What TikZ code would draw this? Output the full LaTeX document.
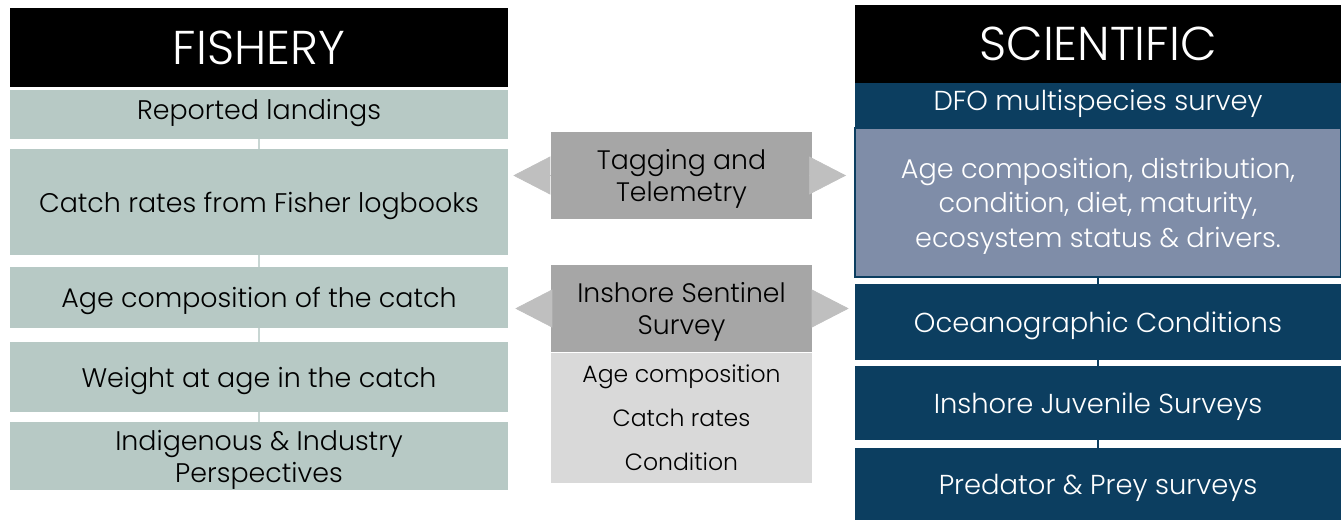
\documentclass[tikz,border=0pt]{standalone}
\usepackage{fontspec}
\setmainfont{Poppins}[UprightFont=* Light]
\definecolor{fishgreen}{RGB}{183, 201, 197}
\definecolor{fishline}{RGB}{200, 214, 211}
\definecolor{sciblue}{RGB}{12, 62, 96}
\definecolor{scilight}{RGB}{127, 141, 168}
\definecolor{taggray}{RGB}{166, 166, 166}
\definecolor{arrowgray}{RGB}{191, 191, 191}
\definecolor{sentgray}{RGB}{217, 217, 217}
\usetikzlibrary{arrows.meta, positioning}

\tikzset{
  headbox/.style={fill=black, text=white, minimum height=1.56cm, font=\fontsize{27}{30}\selectfont, inner sep=0pt},
  fishbox/.style={fill=fishgreen, minimum width=9.96cm, align=center, font=\fontsize{15.3}{18.2}\selectfont, inner sep=0pt, text depth=0pt},
  scibox/.style={fill=sciblue, text=white, minimum width=9.72cm, align=center, font=\fontsize{15.6}{18.2}\selectfont, inner sep=0pt, text depth=0pt},
  midbox/.style={fill=taggray, minimum width=5.22cm, minimum height=1.74cm, align=center, font=\fontsize{15.2}{18.2}\selectfont, inner sep=0pt, text depth=0pt},
  fatarrow/.style={arrowgray, line width=0.4pt, -{Triangle[length=0.74cm, width=0.76cm]}},
  fishlink/.style={fishline, line width=0.8pt},
  scilink/.style={sciblue, line width=0.8pt}
}

\begin{document}
\begin{tikzpicture}[x=0.02cm, y=-0.02cm]
  \useasboundingbox (0,0) rectangle (1341,520);

  % Fishery column
  \node[headbox, minimum width=9.96cm, minimum height=1.58cm] (fishhead) at (259,47.5) {FISHERY};
  \node[fishbox, minimum height=0.98cm, text depth=6pt] (landings) at (259,114.5) {Reported landings};
  \node[fishbox, minimum height=2.12cm] (catch) at (259,202) {Catch rates from Fisher logbooks};
  \node[fishbox, minimum height=1.22cm] (agecatch) at (259,297.5) {Age composition of the catch};
  \node[fishbox, minimum height=1.4cm] (weight) at (259,377) {Weight at age in the catch};
  \node[fishbox, minimum height=1.36cm] (indig) at (259,456) {Indigenous \& Industry\\Perspectives};
  \draw[fishlink] (landings.south) -- (catch.north);
  \draw[fishlink] (catch.south) -- (agecatch.north);
  \draw[fishlink] (agecatch.south) -- (weight.north);
  \draw[fishlink] (weight.south) -- (indig.north);

  % Scientific column
  \node[headbox, minimum width=9.72cm] (scihead) at (1098,44) {SCIENTIFIC};
  \node[scibox, minimum height=0.9cm, text depth=6pt] (dfo) at (1098,105.5) {DFO multispecies survey};
  \node[scibox, fill=scilight, draw=sciblue, line width=1.2pt, minimum height=2.98cm, font=\fontsize{15.4}{19.6}\selectfont, text depth=-3pt] (dfodet) at (1098,202.5) {Age composition, distribution,\\condition, diet, maturity,\\ecosystem status \& drivers.};
  \node[scibox, minimum height=1.52cm] (ocean) at (1098,322) {Oceanographic Conditions};
  \node[scibox, minimum height=1.48cm] (juv) at (1098,403) {Inshore Juvenile Surveys};
  \node[scibox, minimum height=1.44cm] (pred) at (1098,484) {Predator \& Prey surveys};
  \draw[scilink] (dfodet.south) -- (ocean.north);
  \draw[scilink] (ocean.south) -- (juv.north);
  \draw[scilink] (juv.south) -- (pred.north);

  % Shared data sources
  \node[midbox] (tag) at (681.5,175.5) {Tagging and\\Telemetry};
  \node[midbox] (sent) at (681.5,308.5) {Inshore Sentinel\\Survey};
  \node[fill=sentgray, minimum width=5.22cm, minimum height=2.6cm, align=center, inner sep=0pt, font=\fontsize{13.4}{25}\selectfont, below=0pt of sent] (sentdet) {Age composition\\Catch rates\\Condition};

  % Arrows to both sides
  \draw[fatarrow, shorten >=0.1cm] (tag.west) -- (tag.west -| catch.east);
  \draw[fatarrow, shorten >=0.16cm] (tag.east) -- (tag.east -| dfodet.west);
  \draw[fatarrow, shorten >=0.14cm] (sent.west) -- (sent.west -| agecatch.east);
  \draw[fatarrow, shorten >=0.12cm] (sent.east) -- (sent.east -| ocean.west);
\end{tikzpicture}
\end{document}
